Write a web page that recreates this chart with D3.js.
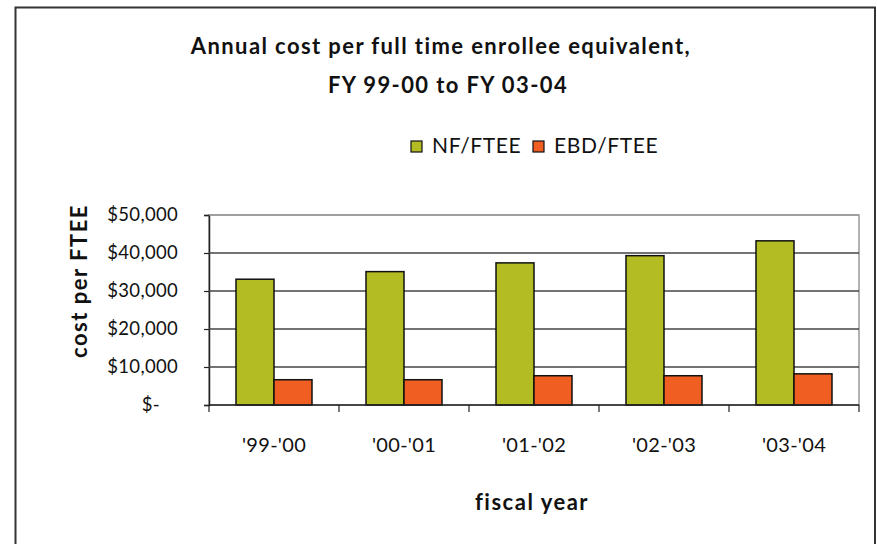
<!DOCTYPE html>
<html>
<head>
<meta charset="utf-8">
<script src="https://cdn.jsdelivr.net/npm/d3@7"></script>
<style>
  html, body { margin: 0; padding: 0; background: #fff; overflow: hidden; }
  svg { display: block; }
  text { font-family: Lato, "Open Sans", sans-serif; fill: #111; }
</style>
</head>
<body>
<div id="chart"></div>
<script>
const years = ["'99-'00", "'00-'01", "'01-'02", "'02-'03", "'03-'04"];
const seriesNames = ["NF/FTEE", "EBD/FTEE"];
const nfValues = [33100, 35100, 37400, 39300, 43200];
const ebdValues = [6650, 6650, 7700, 7700, 8200];
const yTickValues = [0, 10000, 20000, 30000, 40000, 50000];
const colors = ["#b3bc23", "#f15e22"];

const width = 877, height = 544;
const margin = {top: 215, right: 18, bottom: 139, left: 209};
const innerWidth = width - margin.left - margin.right;
const innerHeight = height - margin.top - margin.bottom;

const data = years.map((y, i) => ({year: y, values: [nfValues[i], ebdValues[i]]}));

const svg = d3.select('#chart').append('svg')
  .attr('width', width)
  .attr('height', height);

svg.append('rect')
  .attr('width', width).attr('height', height).attr('fill', '#fff');

// outer frame, no bottom edge visible
svg.append('path')
  .attr('d', `M15.5,${height} V7.5 H875 V${height}`)
  .attr('fill', 'none')
  .attr('stroke', '#333')
  .attr('stroke-width', 2);

// title
const title = svg.append('text')
  .attr('text-anchor', 'middle')
  .style('font-weight', 'bold')
  .style('font-size', '22px')
  .style('letter-spacing', '1.4px');
title.append('tspan').attr('x', 441).attr('y', 54).text('Annual cost per full time enrollee equivalent,');
title.append('tspan').attr('x', 448).attr('y', 93).text('FY 99-00 to FY 03-04');

const xScale = d3.scaleBand().domain(years).range([0, innerWidth]);
const xSub = d3.scaleBand().domain(seriesNames)
  .range([(xScale.bandwidth() - 76) / 2, (xScale.bandwidth() + 76) / 2]);
const yScale = d3.scaleLinear().domain([0, 50000]).range([innerHeight, 0]);

const g = svg.append('g').attr('transform', `translate(${margin.left},${margin.top})`);

// plot frame (top/right grey)
g.append('rect')
  .attr('width', innerWidth).attr('height', innerHeight)
  .attr('fill', 'none').attr('stroke', '#999').attr('stroke-width', 1.5);

const yAxis = d3.axisLeft(yScale)
  .tickValues(yTickValues)
  .tickSize(5)
  .tickPadding(26)
  .tickFormat(d => d === 0 ? '$-' : '$' + d3.format(',')(d));

const yAxisG = g.append('g').attr('class', 'y-axis').call(yAxis);
yAxisG.select('.domain').attr('stroke', '#222').attr('stroke-width', 1.5);
yAxisG.selectAll('.tick line').attr('stroke', '#222').attr('stroke-width', 1.2);
yAxisG.selectAll('.tick text')
  .style('font-size', '18.5px').style('font-family', 'Lato, sans-serif')
  .style('letter-spacing', '0.3px').attr('fill', '#111');
yAxisG.selectAll('.tick').filter(d => d === 0).select('text').attr('dx', -18);

// gridlines
g.append('g').selectAll('line')
  .data(yTickValues.filter(d => d > 0))
  .join('line')
  .attr('x1', 0).attr('x2', innerWidth)
  .attr('y1', d => yScale(d)).attr('y2', d => yScale(d))
  .attr('stroke', d => d === 50000 ? '#999' : '#444')
  .attr('stroke-width', 1.3);

// bars
const groups = g.append('g').selectAll('g')
  .data(data)
  .join('g')
  .attr('transform', d => `translate(${xScale(d.year)},0)`);

groups.selectAll('rect')
  .data(d => d.values.map((v, i) => ({name: seriesNames[i], value: v, i})))
  .join('rect')
  .attr('x', d => xSub(d.name))
  .attr('width', xSub.bandwidth())
  .attr('y', d => yScale(d.value))
  .attr('height', d => innerHeight - yScale(d.value))
  .attr('fill', d => colors[d.i])
  .attr('stroke', '#111')
  .attr('stroke-width', 1.5);

// x axis with ticks between categories
const xAxisG = g.append('g').attr('transform', `translate(0,${innerHeight})`);
xAxisG.append('line')
  .attr('x1', 0).attr('x2', innerWidth)
  .attr('stroke', '#222').attr('stroke-width', 1.5);
xAxisG.selectAll('.xtick')
  .data(d3.range(years.length + 1))
  .join('line')
  .attr('class', 'xtick')
  .attr('x1', i => i * xScale.step()).attr('x2', i => i * xScale.step())
  .attr('y1', 0).attr('y2', 7)
  .attr('stroke', '#222').attr('stroke-width', 1.2);
xAxisG.selectAll('.xlabel')
  .data(years)
  .join('text')
  .attr('class', 'xlabel')
  .attr('x', d => xScale(d) + xScale.bandwidth() / 2)
  .attr('y', 47)
  .attr('text-anchor', 'middle')
  .style('font-size', '20px')
  .style('letter-spacing', '0.3px')
  .text(d => d);

// axis titles
svg.append('text')
  .attr('x', 532).attr('y', 510)
  .attr('text-anchor', 'middle')
  .style('font-weight', 'bold').style('font-size', '22px')
  .style('letter-spacing', '1.5px')
  .text('fiscal year');

svg.append('text')
  .attr('transform', 'translate(87,281) rotate(-90)')
  .attr('text-anchor', 'middle')
  .style('font-weight', 'bold').style('font-size', '22px')
  .style('letter-spacing', '1.5px')
  .text('cost per FTEE');

// legend
const legendX = [411, 533];
const legend = svg.append('g').selectAll('g')
  .data(seriesNames)
  .join('g')
  .attr('transform', (d, i) => `translate(${legendX[i]},141)`);
legend.append('rect')
  .attr('width', 11).attr('height', 11)
  .attr('fill', (d, i) => colors[i])
  .attr('stroke', '#111').attr('stroke-width', 1.2);
legend.append('text')
  .attr('x', 21).attr('y', 12)
  .style('font-size', '21px')
  .style('letter-spacing', '0.6px')
  .text(d => d);
</script>
</body>
</html>
